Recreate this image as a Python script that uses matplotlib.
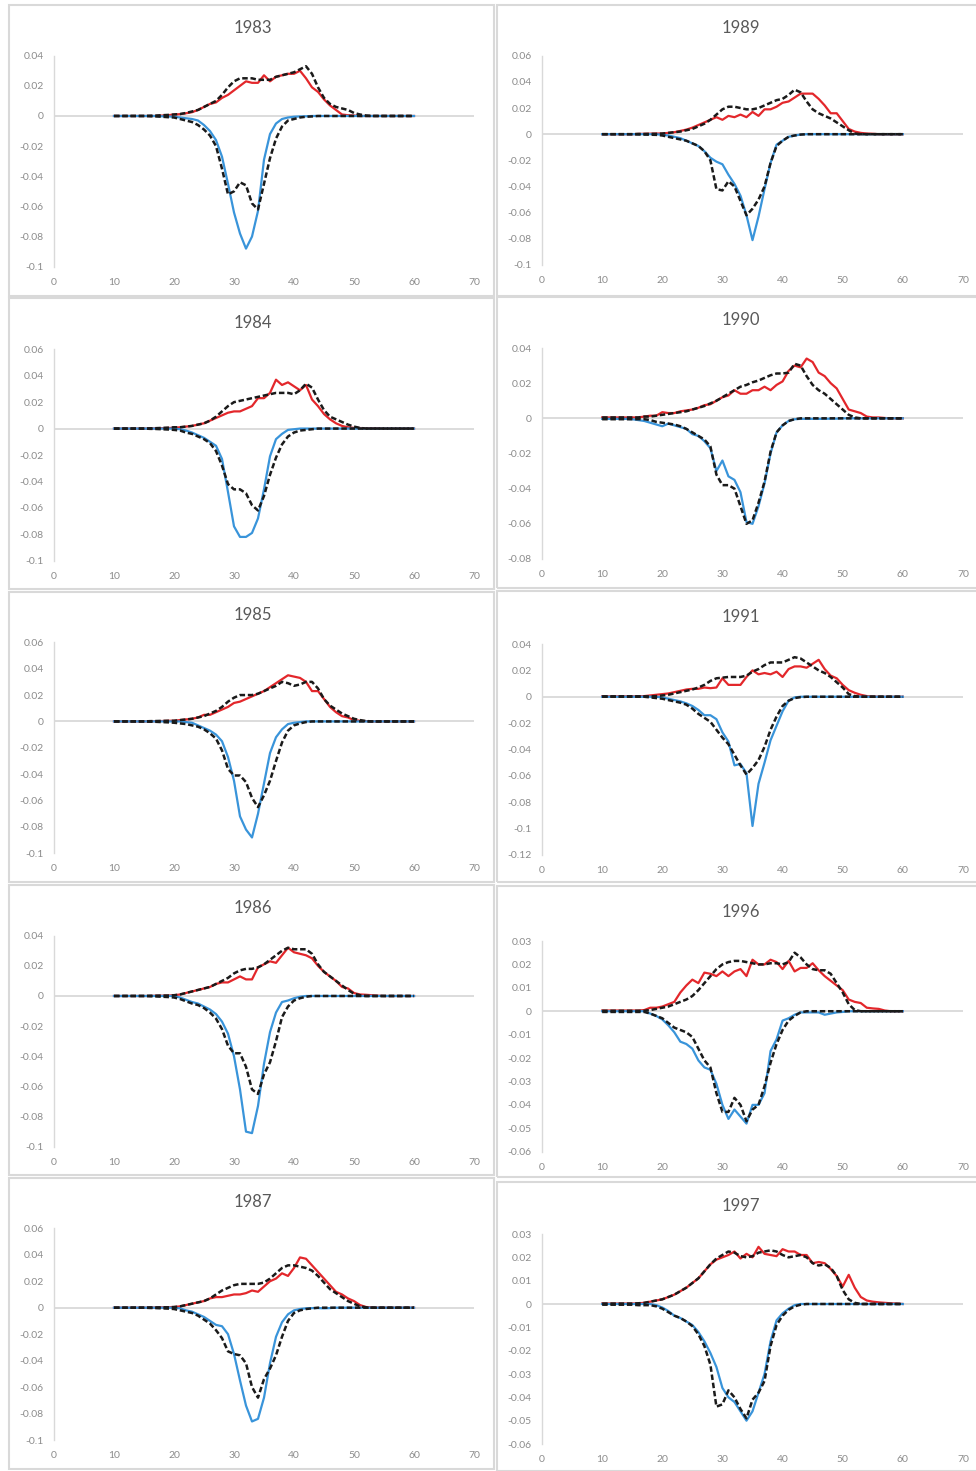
import numpy as np
import matplotlib
matplotlib.use('Agg')
import matplotlib.pyplot as plt
from matplotlib.patches import Rectangle

plt.rcParams['font.family'] = ['Lato', 'DejaVu Sans']

# ages on the x axis, values below are in thousandths
ages = np.arange(10, 61)

red_1983 = [0, 0, 0, 0, 0, 0, 0, 0, 0.3, 0.5,
            1, 1.2, 1.8, 2.5, 4, 6, 8, 9, 12, 14,
            17, 20, 23, 22, 22, 27, 23, 26, 27, 28,
            28, 30, 25, 19, 16, 11, 7, 4, 1, 0.5,
            0.3, 0, 0, 0, 0, 0, 0, 0, 0, 0,
            0]
black_up_1983 = [0, 0, 0, 0, 0, 0, 0.2, 0.3, 0.5, 0.7,
                 1, 1.3, 2, 3, 4, 6, 8, 10, 14, 19,
                 23, 25, 25, 25, 24, 24, 24, 26, 27, 28,
                 29, 31, 33, 28, 19, 12, 8, 6, 5, 4,
                 2, 1, 0.3, 0, 0, 0, 0, 0, 0, 0,
                 0]
blue_1983 = [0, 0, 0, 0, 0, 0, 0, 0, -0.2, -0.3,
             -0.5, -1, -1.5, -2, -3, -6, -10, -16, -27, -45,
             -64, -78, -88, -80, -63, -29, -12, -5, -2, -1,
             -0.5, -0.3, -0.2, 0, 0, 0, 0, 0, 0, 0,
             0, 0, 0, 0, 0, 0, 0, 0, 0, 0,
             0]
black_down_1983 = [0, 0, 0, 0, 0, 0, -0.2, -0.3, -0.5, -0.8,
                   -1, -2, -3, -4, -6, -9, -13, -20, -35, -52,
                   -50, -44, -46, -58, -62, -45, -28, -15, -7, -3,
                   -2, -1, -0.5, -0.3, 0, 0, 0, 0, 0, 0,
                   0, 0, 0, 0, 0, 0, 0, 0, 0, 0,
                   0]

red_1984 = [0, 0, 0, 0, 0, 0, 0, 0.2, 0.3, 0.5,
            0.5, 1, 1.5, 2, 3, 4, 6, 8, 10, 12,
            13, 13, 15, 17, 23, 23, 27, 37, 33, 35,
            32, 29, 33, 22, 17, 11, 7, 4, 2, 1,
            0.5, 0.4, 0.3, 0.3, 0.3, 0, 0, 0, 0, 0,
            0]
black_up_1984 = [0, 0, 0, 0, 0, 0, 0.2, 0.3, 0.5, 0.7,
                 1, 1, 1.5, 2, 3, 4, 6, 9, 13, 17,
                 20, 21, 22, 23, 24, 25, 26, 27, 27, 27,
                 26, 29, 34, 31, 22, 14, 9, 7, 5, 3,
                 1.5, 0.5, 0, 0, 0, 0, 0, 0, 0, 0,
                 0]
blue_1984 = [0, 0, 0, 0, 0, 0, 0, 0, 0, 0,
             0, -0.5, -1.5, -3, -5, -7, -10, -13, -23, -48,
             -74, -82, -82, -79, -68, -46, -21, -8, -4, -1,
             -0.5, 0, 0, 0, 0, 0, 0, 0, 0, 0,
             0, 0, 0, 0, 0, 0, 0, 0, 0, 0,
             0]
black_down_1984 = [0, 0, 0, 0, 0, 0, -0.2, -0.3, -0.5, -0.7,
                   -1, -1.5, -3, -4, -6, -8, -11, -17, -28, -42,
                   -46, -46, -49, -58, -62, -51, -35, -22, -12, -6,
                   -3, -1.5, -1, -0.5, 0, 0, 0, 0, 0, 0,
                   0, 0, 0, 0, 0, 0, 0, 0, 0, 0,
                   0]

red_1985 = [0, 0, 0, 0, 0, 0, 0, 0.2, 0.3, 0.5,
            0.5, 1, 1.5, 2, 3, 5, 5, 7, 9, 11,
            14, 15, 17, 19, 21, 23, 26, 29, 32, 35,
            34, 33, 30, 23, 23, 17, 11, 7, 4, 3,
            1, 0.5, 0.2, 0, 0, 0, 0, 0, 0, 0,
            0]
black_up_1985 = [0, 0, 0, 0, 0, 0, 0.2, 0.3, 0.4, 0.5,
                 0.5, 1, 1.5, 2, 3, 4, 6, 8, 11, 15,
                 18, 20, 20, 20, 21, 23, 25, 27, 30, 29,
                 27, 28, 30, 30, 25, 17, 12, 9, 6, 4,
                 2, 1, 0.3, 0, 0, 0, 0, 0, 0, 0,
                 0]
blue_1985 = [0, 0, 0, 0, 0, 0, 0, 0, 0, 0,
             0, 0, -0.5, -1, -3, -5, -7, -10, -15, -27,
             -45, -72, -82, -88, -70, -47, -24, -12, -6, -2,
             -1, -0.5, 0, 0, 0, 0, 0, 0, 0, 0,
             0, 0, 0, 0, 0, 0, 0, 0, 0, 0,
             0]
black_down_1985 = [0, 0, 0, 0, 0, 0, -0.2, -0.3, -0.5, -0.7,
                   -1, -1.5, -2, -3, -4, -6, -9, -13, -22, -36,
                   -41, -41, -46, -58, -65, -56, -45, -30, -16, -7,
                   -3, -1.5, -0.5, 0, 0, 0, 0, 0, 0, 0,
                   0, 0, 0, 0, 0, 0, 0, 0, 0, 0,
                   0]

red_1986 = [0, 0, 0, 0, 0, 0, 0, 0.2, 0.2, 0.3,
            0.5, 1, 2, 3, 4, 5, 6, 8, 9, 9,
            11, 13, 11, 11, 19, 21, 23, 22, 27, 32,
            29, 28, 27, 25, 20, 16, 13, 10, 6, 5,
            2, 1, 0.8, 0.5, 0.2, 0, 0, 0, 0, 0,
            0]
black_up_1986 = [0, 0, 0, 0, 0, 0, 0.2, 0.2, 0.3, 0.3,
                 0.5, 1, 2, 3, 4, 5, 6, 8, 10, 12,
                 15, 17, 18, 18, 19, 21, 24, 27, 30, 32,
                 31, 31, 31, 28, 21, 16, 13, 10, 7, 4,
                 1.5, 0.5, 0, 0, 0, 0, 0, 0, 0, 0,
                 0]
blue_1986 = [0, 0, 0, 0, 0, 0, 0, 0, 0, 0,
             0, -1, -2.5, -4, -5, -7, -9, -12, -17, -25,
             -40, -62, -90, -91, -73, -45, -24, -11, -4, -3,
             -1.5, -0.5, 0, 0, 0, 0, 0, 0, 0, 0,
             0, 0, 0, 0, 0, 0, 0, 0, 0, 0,
             0]
black_down_1986 = [0, 0, 0, 0, 0, 0, -0.2, -0.3, -0.5, -0.7,
                   -1, -2, -3.5, -5, -6, -8, -11, -15, -22, -33,
                   -38, -38, -47, -62, -65, -52, -44, -30, -14, -7,
                   -3, -1.5, -0.5, 0, 0, 0, 0, 0, 0, 0,
                   0, 0, 0, 0, 0, 0, 0, 0, 0, 0,
                   0]

red_1987 = [0, 0, 0, 0, 0, 0, 0, 0.2, 0.3, 0.4,
            0.5, 1, 2, 3, 4, 5, 7, 8, 8, 9,
            10, 10, 11, 13, 12, 16, 20, 22, 26, 24,
            30, 38, 37, 32, 27, 22, 17, 12, 10, 7,
            5, 2, 0.5, 0.3, 0, 0, 0, 0, 0, 0,
            0]
black_up_1987 = [0, 0, 0, 0, 0, 0, 0.2, 0.2, 0.3, 0.3,
                 0.5, 1, 2, 3, 4, 5, 7, 10, 13, 15,
                 17, 18, 18, 18, 18, 19, 22, 26, 30, 32,
                 32, 31, 30, 28, 24, 19, 14, 11, 8, 5,
                 3, 1, 0.3, 0, 0, 0, 0, 0, 0, 0,
                 0]
blue_1987 = [0, 0, 0, 0, 0, 0, 0, 0, 0, 0,
             0, -0.5, -2, -3, -5, -7, -10, -13, -14, -20,
             -35, -55, -74, -86, -84, -68, -42, -22, -11, -5,
             -2, -1, -0.5, -0.3, -0.3, -0.5, -0.3, 0, 0, 0,
             0, 0, 0, 0, 0, 0, 0, 0, 0, 0,
             0]
black_down_1987 = [0, 0, 0, 0, 0, 0, -0.2, -0.3, -0.5, -0.7,
                   -1, -2, -3, -4, -6, -9, -12, -17, -23, -33,
                   -35, -36, -42, -60, -68, -54, -46, -36, -22, -10,
                   -4, -2, -1, -0.5, 0, 0, 0, 0, 0, 0,
                   0, 0, 0, 0, 0, 0, 0, 0, 0, 0,
                   0]

red_1989 = [0, 0, 0, 0, 0, 0, 0.2, 0.3, 0.4, 0.5,
            0.5, 1, 1.5, 2.5, 3.5, 5, 7, 9, 11, 13,
            11, 14, 13, 15, 13, 17, 14, 19, 19, 21,
            24, 25, 28, 31, 31, 31, 27, 22, 16, 16,
            10, 4, 2, 1, 0.5, 0.3, 0, 0, 0, 0,
            0]
black_up_1989 = [0, 0, 0, 0, 0, 0, 0.2, 0.2, 0.3, 0.3,
                 0.5, 1, 1.5, 2, 3, 4, 6, 8, 11, 15,
                 19, 21, 21, 20, 19, 19, 20, 22, 24, 26,
                 27, 30, 34, 32, 25, 19, 16, 14, 12, 9,
                 6, 3, 0.5, 0, 0, 0, 0, 0, 0, 0,
                 0]
blue_1989 = [0, 0, 0, 0, 0, 0, 0, 0, 0, 0,
             -0.5, -1, -2, -3, -5, -7, -9, -13, -18, -21,
             -23, -31, -38, -47, -62, -81, -63, -42, -22, -8,
             -5, -2, -1, -0.3, 0, 0, 0, 0, 0, 0,
             0, 0, 0, 0, 0, 0, 0, 0, 0, 0,
             0]
black_down_1989 = [0, 0, 0, 0, 0, 0, -0.2, -0.3, -0.4, -0.5,
                   -1, -2, -3, -4, -5, -7, -9, -13, -20, -42,
                   -43, -36, -40, -51, -62, -57, -50, -40, -22, -9,
                   -5, -2, -1, -0.3, 0, 0, 0, 0, 0, 0,
                   0, 0, 0, 0, 0, 0, 0, 0, 0, 0,
                   0]

red_1990 = [0.5, 0.5, 0.5, 0.5, 0.5, 0.5, 0.5, 1, 1.5, 1.5,
            3.5, 3, 3, 4, 4.5, 5, 6, 7.5, 8, 10,
            12, 13, 16, 14, 14, 16, 16, 18, 16, 19,
            21, 27, 30, 29, 34, 32, 26, 24, 20, 17,
            11, 5, 4, 3, 1, 0.5, 0.5, 0.2, 0, 0,
            0]
black_up_1990 = [0.5, 0.5, 0.5, 0.5, 0.5, 0.5, 0.5, 1, 1, 1.5,
                 2, 2.5, 3, 3.5, 4, 5, 6, 7, 8.5, 10,
                 12, 14, 16, 18, 19, 20.5, 21.5, 23, 24.5, 25.5,
                 25.5, 26, 31, 30, 24, 19, 16, 14, 11, 8,
                 5, 2, 0.5, 0, 0, 0, 0, 0, 0, 0,
                 0]
blue_1990 = [-0.3, -0.3, -0.3, -0.3, -0.3, -0.5, -1, -1.5, -2.5, -3.5,
             -4.5, -3, -4, -5, -6, -9, -10, -13, -17, -30,
             -24, -33, -35, -42, -59, -60, -50, -37, -20, -8,
             -4, -1.5, -0.5, -0.3, -0.3, -0.3, -0.3, -0.3, -0.2, -0.2,
             0, 0, 0, 0, 0, 0, 0, 0, 0, 0,
             0]
black_down_1990 = [-0.5, -0.5, -0.5, -0.5, -0.5, -0.5, -0.5, -0.5, -1, -2,
                   -2.5, -3, -3.5, -4.5, -6, -8, -10, -12, -16, -32,
                   -38, -38, -40, -50, -60, -58, -48, -36, -19, -8,
                   -4, -1.5, -0.5, 0, 0, 0, 0, 0, 0, 0,
                   0, 0, 0, 0, 0, 0, 0, 0, 0, 0,
                   0]

red_1991 = [0.3, 0.3, 0.3, 0.3, 0.3, 0.3, 0.3, 0.5, 1, 1.5,
            2, 2.5, 3.5, 4.5, 5.5, 6, 6, 7, 6.5, 7,
            14, 9, 9, 9, 15, 20, 17, 18, 17, 19,
            15, 21, 23, 23, 22, 25, 28, 21, 16, 14,
            9, 5, 3, 1.5, 0.5, 0.2, 0, 0, 0, 0,
            0]
black_up_1991 = [0.3, 0.3, 0.3, 0.3, 0.3, 0.3, 0.3, 0.3, 0.3, 0.5,
                 1, 1.5, 2.5, 3.5, 4.5, 5.5, 7, 9, 12, 14,
                 14.5, 15, 15, 15, 16, 19, 21, 24, 26, 26,
                 26, 28, 30, 29, 26, 23, 20, 18, 15, 11,
                 7, 2, 0.5, 0, 0, 0, 0, 0, 0, 0,
                 0]
blue_1991 = [0, 0, 0, 0, 0, 0, 0, 0, 0, 0,
             -0.5, -1.5, -2.5, -3.5, -5, -7, -10, -14, -14, -17,
             -27, -34, -52, -51, -58, -98, -66, -50, -33, -22,
             -11, -3, -0.5, 0, 0, 0, 0, 0, 0, 0,
             0, 0, 0, 0, 0, 0, 0, 0, 0, 0,
             0]
black_down_1991 = [0, 0, 0, 0, 0, 0, 0, 0, -0.5, -1,
                   -1.5, -2.5, -3.5, -4.5, -6, -9, -13, -16, -19, -25,
                   -31, -36, -44, -52, -59, -54, -48, -38, -25, -15,
                   -7, -3, -1, -0.3, 0, 0, 0, 0, 0, 0,
                   0, 0, 0, 0, 0, 0, 0, 0, 0, 0,
                   0]

red_1996 = [0.3, 0.3, 0.3, 0.3, 0.3, 0.3, 0.3, 0.5, 1.5, 1.5,
            2, 3, 4, 8, 11, 13.5, 12, 16.5, 16, 15,
            17, 15, 17, 18, 15, 22, 20, 20, 22, 21,
            18, 21.5, 17, 18.5, 18.5, 20.5, 17.5, 15, 13, 11,
            9, 5, 4, 3.5, 1.5, 1.2, 1, 0.3, 0, 0,
            0]
black_up_1996 = [0.2, 0.2, 0.2, 0.2, 0.2, 0.2, 0.2, 0.2, 0.5, 1,
                 1.5, 2, 3, 4, 5, 6.5, 9, 12, 15, 18,
                 20, 21, 21.5, 21.5, 21, 20.5, 20, 20, 20.5, 20.5,
                 20, 21, 25, 23, 20, 18, 17.5, 17.5, 16, 12,
                 8, 3, 0.5, 0, 0, 0, 0, 0, 0, 0,
                 0]
blue_1996 = [0, 0, 0, 0, 0, 0, 0, 0, -1, -2,
             -3.5, -6, -9, -13, -14, -16, -21, -24, -25, -31,
             -40, -46, -42, -45, -48, -40, -40, -35, -17, -12,
             -4, -3, -1.5, -0.5, -0.5, -0.5, -0.5, -1.5, -1, -0.5,
             -0.3, 0, 0, 0, 0, 0, 0, 0, 0, 0,
             0]
black_down_1996 = [-0.3, -0.3, -0.3, -0.3, -0.3, -0.3, -0.3, -0.3, -1, -2,
                   -3, -5, -7, -8, -9, -11, -16, -21, -24, -35,
                   -43, -43, -37, -40, -47, -42, -40, -32, -22, -14,
                   -8, -4, -2, -0.5, 0, 0, 0, 0, 0, 0,
                   0, 0, 0, 0, 0, 0, 0, 0, 0, 0,
                   0]

red_1997 = [0.2, 0.2, 0.2, 0.2, 0.2, 0.2, 0.3, 0.5, 1, 1.5,
            2, 3, 4, 5.5, 7, 9, 11, 14, 17, 19,
            20, 21, 22.5, 19.5, 21.5, 20, 24.5, 21.5, 21, 20.5,
            23.5, 22.5, 22.5, 21, 21, 17.5, 18, 17.5, 15, 12,
            7.5, 12.5, 7, 3, 1.5, 1, 0.7, 0.5, 0.3, 0.2,
            0]
black_up_1997 = [0.2, 0.2, 0.2, 0.2, 0.2, 0.2, 0.3, 0.5, 1, 1.5,
                 2, 3, 4, 5.5, 7, 9, 11, 14, 17, 19.5,
                 21, 22.5, 22, 20.5, 20, 20.5, 22, 22.5, 23, 22.5,
                 21, 20, 20.5, 21, 20, 17.5, 16.5, 17, 15.5, 12,
                 6, 2, 0.5, 0, 0, 0, 0, 0, 0, 0,
                 0]
blue_1997 = [0, 0, 0, 0, 0, 0, 0, 0, 0, -0.5,
             -1.5, -3, -5, -6, -7.5, -9, -12, -16, -21, -27,
             -36, -40, -42, -46, -50, -46, -38, -30, -16, -7,
             -4, -2, -0.5, 0, 0, 0, 0, 0, 0, 0,
             0, 0, 0, 0, 0, 0, 0, 0, 0, 0,
             0]
black_down_1997 = [-0.3, -0.3, -0.3, -0.3, -0.3, -0.3, -0.5, -0.5, -0.5, -1,
                   -2, -3.5, -5, -6, -7.5, -9.5, -13, -18, -26, -44,
                   -43, -37, -40, -45, -49, -41, -38, -33, -18, -9,
                   -5, -2.5, -1, -0.3, 0, 0, 0, 0, 0, 0,
                   0, 0, 0, 0, 0, 0, 0, 0, 0, 0,
                   0]

# year, series, y range and step of the y axis
panels = [
    ('1983', red_1983, blue_1983, black_up_1983, black_down_1983, -0.1, 0.04, 0.02),
    ('1984', red_1984, blue_1984, black_up_1984, black_down_1984, -0.1, 0.06, 0.02),
    ('1985', red_1985, blue_1985, black_up_1985, black_down_1985, -0.1, 0.06, 0.02),
    ('1986', red_1986, blue_1986, black_up_1986, black_down_1986, -0.1, 0.04, 0.02),
    ('1987', red_1987, blue_1987, black_up_1987, black_down_1987, -0.1, 0.06, 0.02),
    ('1989', red_1989, blue_1989, black_up_1989, black_down_1989, -0.1, 0.06, 0.02),
    ('1990', red_1990, blue_1990, black_up_1990, black_down_1990, -0.08, 0.04, 0.02),
    ('1991', red_1991, blue_1991, black_up_1991, black_down_1991, -0.12, 0.04, 0.02),
    ('1996', red_1996, blue_1996, black_up_1996, black_down_1996, -0.06, 0.03, 0.01),
    ('1997', red_1997, blue_1997, black_up_1997, black_down_1997, -0.06, 0.03, 0.01),
]

# pixel layout: (panel box x0, x1, y0, y1), plot area (x0, x1, y_top, y_bottom), title (x, y)
W, H = 976, 1471
boxes = [(9, 494, 5, 296), (9, 494, 298, 589), (9, 494, 592, 882), (9, 494, 885, 1175), (9, 494, 1178, 1469),
         (497, 990, 5, 296), (497, 990, 297, 588), (497, 990, 591, 882), (497, 990, 886, 1177), (497, 990, 1182, 1471)]
areas = [(54, 474, 55.7, 266.7), (54, 474, 349.3, 560.7), (54, 474, 642.3, 853.3),
         (54, 474, 935.7, 1146.7), (54, 474, 1228.3, 1440),
         (542, 963, 55.7, 265), (542, 963, 348, 559), (542, 963, 644, 855),
         (542, 963, 941, 1151.7), (542, 963, 1234, 1444)]
titles = [(253, 28), (253, 322.7), (253, 615), (253, 908), (253, 1201.7),
          (741, 28), (741, 320), (741, 616.7), (741, 911.7), (741, 1206)]

RED = '#e3272b'
BLUE = '#3994da'
GRID = '#d9d9d9'
TICK = '#8c8c8c'

fig = plt.figure(figsize=(W / 100, H / 100), dpi=100)

for (year, red, blue, bup, bdown, ymin, ymax, step), box, area, tpos in zip(panels, boxes, areas, titles):
    for s in (red, blue, bup, bdown):
        assert len(s) == len(ages)
    bx0, bx1, by0, by1 = box
    fig.add_artist(Rectangle((bx0 / W, 1 - by1 / H), (bx1 - bx0) / W, (by1 - by0) / H,
                             transform=fig.transFigure, fill=False, ec=GRID, lw=1.5))
    x0, x1, yt, yb = area
    ax = fig.add_axes([x0 / W, 1 - yb / H, (x1 - x0) / W, (yb - yt) / H])
    ax.axhline(0, color=GRID, lw=1.3, zorder=1)
    ax.plot(ages, np.array(red) / 1000, color=RED, lw=1.6, zorder=3)
    ax.plot(ages, np.array(blue) / 1000, color=BLUE, lw=1.6, zorder=3)
    ax.plot(ages, np.array(bup) / 1000, color='#1a1a1a', lw=1.8, dashes=(2.2, 1.1), zorder=4)
    ax.plot(ages, np.array(bdown) / 1000, color='#1a1a1a', lw=1.8, dashes=(2.2, 1.1), zorder=4)
    ax.set_xlim(0, 70)
    ax.set_ylim(ymin, ymax)
    ax.set_xticks(np.arange(0, 71, 10))
    yt_vals = np.round(np.arange(ymin, ymax + step / 2, step), 3)
    ax.set_yticks(yt_vals)
    ax.set_yticklabels(['{:g}'.format(v + 0.0) for v in yt_vals])
    ax.tick_params(length=0, labelsize=7.5, colors=TICK)
    ax.tick_params(axis='y', pad=7.5)
    ax.tick_params(axis='x', pad=8)
    for side in ('top', 'right', 'bottom'):
        ax.spines[side].set_visible(False)
    ax.spines['left'].set_color(GRID)
    ax.spines['left'].set_linewidth(1.0)
    ax.patch.set_alpha(0)
    fig.text(tpos[0] / W, 1 - tpos[1] / H, year, ha='center', va='center',
             fontsize=12, color='#595959')

plt.savefig('out.png', dpi=100)
